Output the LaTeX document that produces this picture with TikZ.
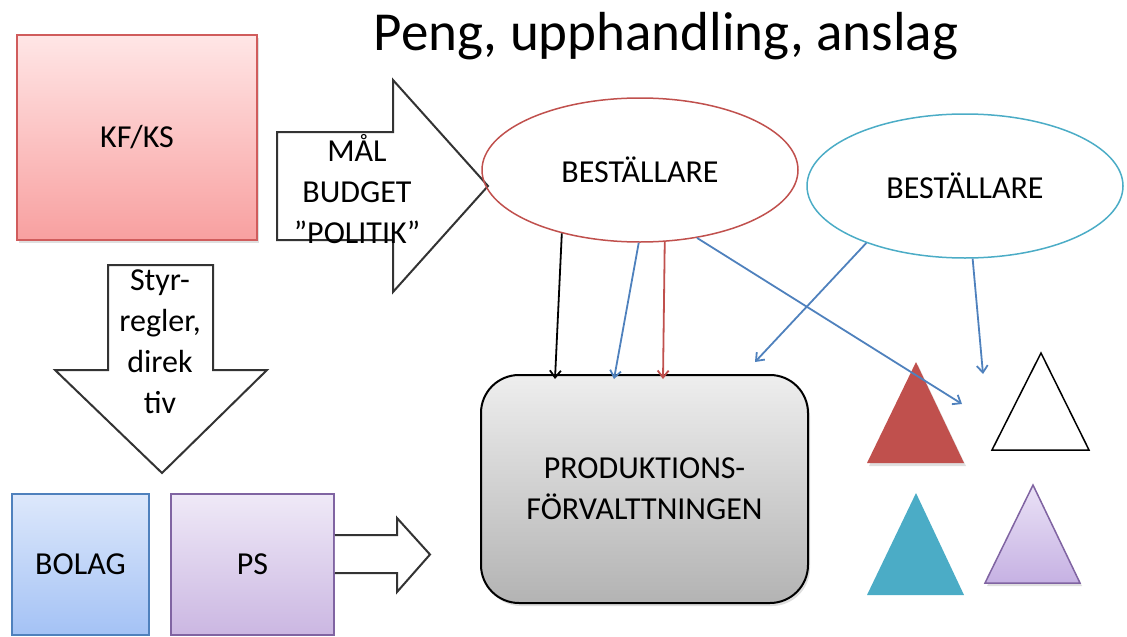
\documentclass[tikz,border=0pt]{standalone}
\usepackage{fontspec}
\setmainfont{Carlito}
\newfontfamily\titlefont{Carlito}
\usepackage{xcolor}
\usetikzlibrary{positioning, shapes.geometric, arrows.meta, shadows}

\definecolor{kfTop}{HTML}{FFE6E6}
\definecolor{kfBot}{HTML}{F8A0A0}
\definecolor{kfLine}{HTML}{D05C5C}
\definecolor{bolagTop}{HTML}{DDE8FB}
\definecolor{bolagBot}{HTML}{A4C2F5}
\definecolor{bolagLine}{HTML}{4F81BD}
\definecolor{psTop}{HTML}{EFE9F7}
\definecolor{psBot}{HTML}{CBB7E2}
\definecolor{psLine}{HTML}{8064A2}
\definecolor{prodTop}{HTML}{EEEEEE}
\definecolor{prodBot}{HTML}{B3B3B3}
\definecolor{offRed}{HTML}{C0504D}
\definecolor{offBlue}{HTML}{4F81BD}
\definecolor{offTeal}{HTML}{4BACC6}
\definecolor{lilacTop}{HTML}{EAE2F6}
\definecolor{lilacBot}{HTML}{C6B1E3}

\begin{document}
\begin{tikzpicture}[
				x=1pt, y=-1pt,
				>={Straight Barb[length=7pt, width=11pt]},
				txt/.style={font=\fontsize{32}{41}\selectfont, align=center, inner sep=0pt},
				box/.style={txt, draw, line width=1.5pt, minimum width=#1},
				shade box/.style={drop shadow={opacity=0.25, shadow xshift=2pt, shadow yshift=-3pt}},
				orderer/.style={ellipse, txt, draw=#1, line width=1.5pt, minimum width=316pt, minimum height=144pt},
				blockarrow/.style={draw=black!80, line width=2pt, line join=miter, fill=white},
				link/.style={->, line width=1.8pt, draw=#1}
				]
				
				\useasboundingbox (0,0) rectangle (1127,637);
				
				% title
				\node (title) at (666,50) [anchor=base, inner sep=0pt, font=\titlefont\fontsize{55}{60}\selectfont] {Peng, upphandling, anslag};
				
				% left column
				\node (kfks) at (137,137.5) [box=240pt, minimum height=205pt, draw=kfLine, top color=kfTop, bottom color=kfBot, shade box] {KF/KS};
				\node (bolag) at (80.5,564.5) [box=137pt, minimum height=141pt, draw=bolagLine, top color=bolagTop, bottom color=bolagBot] {BOLAG};
				\node (ps) at (252.5,564.5) [box=163pt, minimum height=141pt, draw=psLine, top color=psTop, bottom color=psBot] {PS};
				
				% block arrows
				\draw[blockarrow] (277,132) -- (393,132) -- (393,80) -- (488,186) -- (393,292) -- (393,240) -- (277,240) -- cycle;
				\node (mal) at (357,189) [txt] {MÅL\\BUDGET\\”POLITIK”};
				\draw[blockarrow] (108,265) -- (213,265) -- (213,370) -- (267,370) -- (162,473) -- (55,370) -- (108,370) -- cycle;
				\node (styr) at (160,342) [txt] {Styr-\\regler,\\direk\\tiv};
				\draw[blockarrow] (ps.east |- 0,535) -- (397,535) -- (397,518) -- (430,554.5) -- (397,592) -- (397,573) -- (ps.east |- 0,573);
				
				% orderers and production
				\node (bestA) at (640,170) [orderer=offRed] {BESTÄLLARE};
				\node (bestB) at (965,186) [orderer=offTeal] {BESTÄLLARE};
				\node (prod) at (644.5,489) [txt, draw, line width=2pt, rounded corners=38pt, minimum width=327pt, minimum height=228pt, top color=prodTop, bottom color=prodBot, shade box] {PRODUKTIONS-\\FÖRVALTTNINGEN};
				
				% triangles
				\fill[offRed, shade box] (916,362) -- (964,463) -- (867,463) -- cycle;
				\draw[black, line width=1.5pt, fill=white] (1041,353) -- (1089,450) -- (992,450) -- cycle;
				\fill[offTeal] (916,493) -- (964,595) -- (867,595) -- cycle;
				\shade[top color=lilacTop, bottom color=lilacBot, draw=psLine, line width=1.5pt, shade box] (1033,485) -- (1080,583) -- (985,583) -- cycle;
				
				% connectors
				\coordinate (endA) at (755,362);
				\coordinate (endB) at (962,404);
				\coordinate (endC) at (983,374);
				\draw[link=black] (bestA.219) -- ([xshift=75pt, yshift=-5pt]prod.north west);
				\draw[link=offBlue] (bestA.269) -- ([xshift=134pt, yshift=-5pt]prod.north west);
				\draw[link=offRed] (bestA.289) -- ([xshift=183pt, yshift=-5pt]prod.north west);
				\draw[link=offBlue] (bestA.310) -- (endB);
				\draw[link=offBlue] (bestB.210) -- (endA);
				\draw[link=offBlue] (bestB.276) -- (endC);
			\end{tikzpicture}
\end{document}
